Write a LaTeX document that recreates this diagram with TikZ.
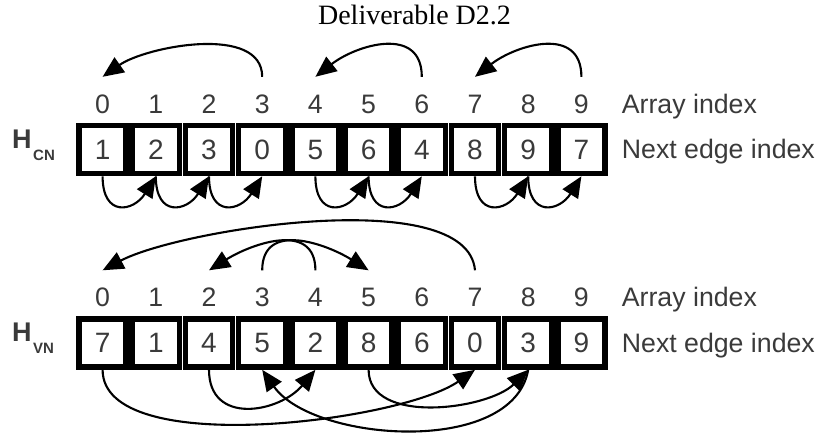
\documentclass[tikz,border=0pt]{standalone}
\usepackage{fontspec}
\setmainfont{Liberation Serif}
\setsansfont{Liberation Sans}
\usetikzlibrary{arrows.meta}
\definecolor{ink}{HTML}{3A3A3A}
\newcommand{\subtxt}[1]{\raisebox{-12pt}{\kern1.5pt\fontsize{15}{17}\selectfont #1}}

\begin{document}
\begin{tikzpicture}[x=1pt,y=1pt,
  cell/.style={draw=black, line width=5.6pt, minimum width=47.3pt,
    minimum height=48pt, inner sep=0pt, text=ink,
    font=\sffamily\fontsize{28}{30}\selectfont},
  idx/.style={inner sep=0pt, text height=19pt, text depth=0pt, text=ink,
    font=\sffamily\fontsize{26.7}{30}\selectfont},
  lbl/.style={anchor=base west, inner sep=0pt, text=ink,
    font=\sffamily\fontsize{26.7}{30}\selectfont},
  hname/.style={anchor=base west, inner sep=0pt, text=ink,
    font=\sffamily\bfseries\fontsize{27}{30}\selectfont},
  link/.style={line width=2.1pt, -{Triangle[length=21pt,width=18pt]}},
]
\useasboundingbox (0,-432) rectangle (823,0);

% title
\node[anchor=base, inner sep=0pt, font=\fontsize{28}{30}\selectfont] (title) at (414.5,-24) {Deliverable D2.2};

% ---------- check-node array ----------
\foreach \v [count=\i from 0] in {1,2,3,0,5,6,4,8,9,7} {
  \node[cell] (a\i) at ({102.6+53.2*\i},-149.5) {\v};
  \node[idx]  (p\i) at ({102.6+53.2*\i},-103.5) {\i};
}
\node[hname] (hcn) at (12,-148) {H\subtxt{CN}};
\node[lbl] (ai1) at (621.7,-113) {Array index};
\node[lbl] (ne1) at (621.7,-158.5) {Next edge index};

% wrap-around links above
\draw[link] ([yshift=17pt]p3.north) to[out=90,in=35,looseness=0.85] ([yshift=17pt]p0.north);
\draw[link] ([yshift=17pt]p6.north) to[out=90,in=38,looseness=1.25] ([yshift=17pt]p4.north);
\draw[link] ([yshift=17pt]p9.north) to[out=90,in=38,looseness=1.25] ([yshift=17pt]p7.north);

% forward links below
\foreach \s/\t in {0/1,1/2,2/3,4/5,5/6,7/8,8/9}
  \draw[link] (a\s.south) to[out=-90,in=-122,looseness=2.0] (a\t.south);

% ---------- variable-node array ----------
\foreach \v [count=\i from 0] in {7,1,4,5,2,8,6,0,3,9} {
  \node[cell] (b\i) at ({102.6+53.2*\i},-343) {\v};
  \node[idx]  (q\i) at ({102.6+53.2*\i},-297) {\i};
}
\node[hname] (hvn) at (12,-341.5) {H\subtxt{VN}};
\node[lbl] (ai2) at (621.7,-306.5) {Array index};
\node[lbl] (ne2) at (621.7,-352.5) {Next edge index};

% links above
\draw[link] ([yshift=17pt]q7.north) to[out=95,in=28,looseness=0.6] ([yshift=17pt]q0.north);
\draw[link] ([yshift=17pt]q4.north) to[out=90,in=32,looseness=1.2] ([yshift=17pt]q2.north);
\draw[link] ([yshift=17pt]q3.north) to[out=90,in=148,looseness=1.2] ([yshift=17pt]q5.north);

% links below
\draw[link] (b0.south) to[out=-90,in=-145,looseness=0.62] (b7.south);
\draw[link] (b2.south) to[out=-90,in=-130,looseness=1.35] (b4.south);
\draw[link] (b5.south) to[out=-90,in=-135,looseness=0.9] (b8.south);
\draw[link] (b8.south) to[out=-100,in=-55,looseness=0.85] (b3.south);
\end{tikzpicture}
\end{document}
